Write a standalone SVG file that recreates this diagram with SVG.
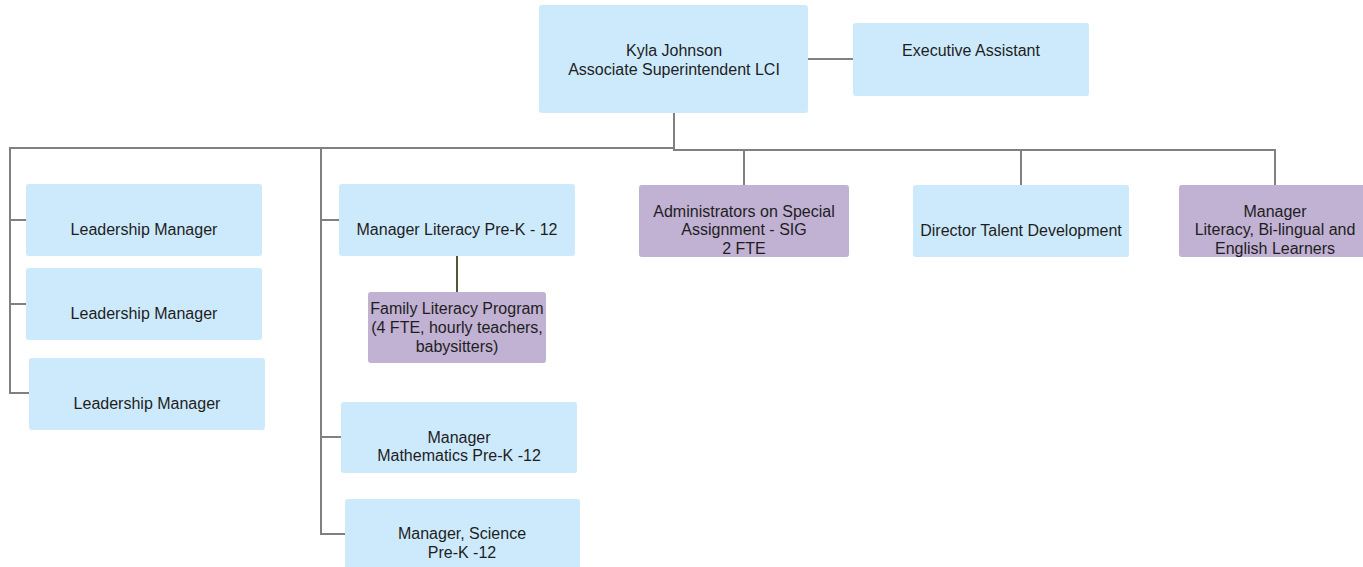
<svg xmlns="http://www.w3.org/2000/svg" width="1363" height="567" viewBox="0 0 1363 567">
<style>
.b{fill:#cdeafc;stroke:#cdeafc;stroke-width:1}
.p{fill:#c1b1d3;stroke:#c1b1d3;stroke-width:1}
text{font-family:"Liberation Sans",Arial,sans-serif;font-size:16px;fill:#1e1e1e;text-anchor:middle}
.c{fill:none;stroke:#808080;stroke-width:2}
.d{fill:none;stroke:#55553a;stroke-width:2}
</style>
<rect width="1363" height="567" fill="#ffffff"/>
<g id="connectors">
<path class="c" d="M808 59H853"/>
<path class="c" d="M674 112V148H10V393H29"/>
<path class="c" d="M10 220H26M10 304H26"/>
<path class="c" d="M674 148V150H1275V185M744 150V185M1021 150V185"/>
<path class="c" d="M321 148V534H345M321 220H339M321 437H341"/>
<path class="d" d="M457 256V292"/>
</g>
<g id="n-kyla"><rect class="b" x="539.5" y="5.5" width="268" height="107" rx="2"/><text x="674" y="56">Kyla Johnson</text><text x="674" y="75">Associate Superintendent LCI</text></g>
<g id="n-exec"><rect class="b" x="853.5" y="23.5" width="235" height="72" rx="2"/><text x="971" y="56">Executive Assistant</text></g>
<g id="n-lm1"><rect class="b" x="26.5" y="184.5" width="235" height="71" rx="2"/><text x="144" y="235">Leadership Manager</text></g>
<g id="n-lm2"><rect class="b" x="26.5" y="268.5" width="235" height="71" rx="2"/><text x="144" y="319">Leadership Manager</text></g>
<g id="n-lm3"><rect class="b" x="29.5" y="358.5" width="235" height="71" rx="2"/><text x="147" y="409">Leadership Manager</text></g>
<g id="n-mlit"><rect class="b" x="339.5" y="184.5" width="235" height="71" rx="2"/><text x="457" y="235">Manager Literacy Pre-K - 12</text></g>
<g id="n-family"><rect class="p" x="368.5" y="292.5" width="177" height="70" rx="2"/><text x="457" y="314">Family Literacy Program</text><text x="457" y="333">(4 FTE, hourly teachers,</text><text x="457" y="352">babysitters)</text></g>
<g id="n-math"><rect class="b" x="341.5" y="402.5" width="235" height="70" rx="2"/><text x="459" y="443">Manager</text><text x="459" y="461">Mathematics Pre-K -12</text></g>
<g id="n-sci"><rect class="b" x="345.5" y="499.5" width="234" height="72" rx="2"/><text x="462" y="539">Manager, Science</text><text x="462" y="558">Pre-K -12</text></g>
<g id="n-admin"><rect class="p" x="639.5" y="185.5" width="209" height="71" rx="2"/><text x="744" y="217">Administrators on Special</text><text x="744" y="235">Assignment - SIG</text><text x="744" y="254">2 FTE</text></g>
<g id="n-dir"><rect class="b" x="913.5" y="185.5" width="215" height="71" rx="2"/><text x="1021" y="236">Director Talent Development</text></g>
<g id="n-mbil"><rect class="p" x="1179.5" y="185.5" width="190" height="71" rx="2"/><text x="1275" y="217">Manager</text><text x="1275" y="235">Literacy, Bi-lingual and</text><text x="1275" y="254">English Learners</text></g>
</svg>
